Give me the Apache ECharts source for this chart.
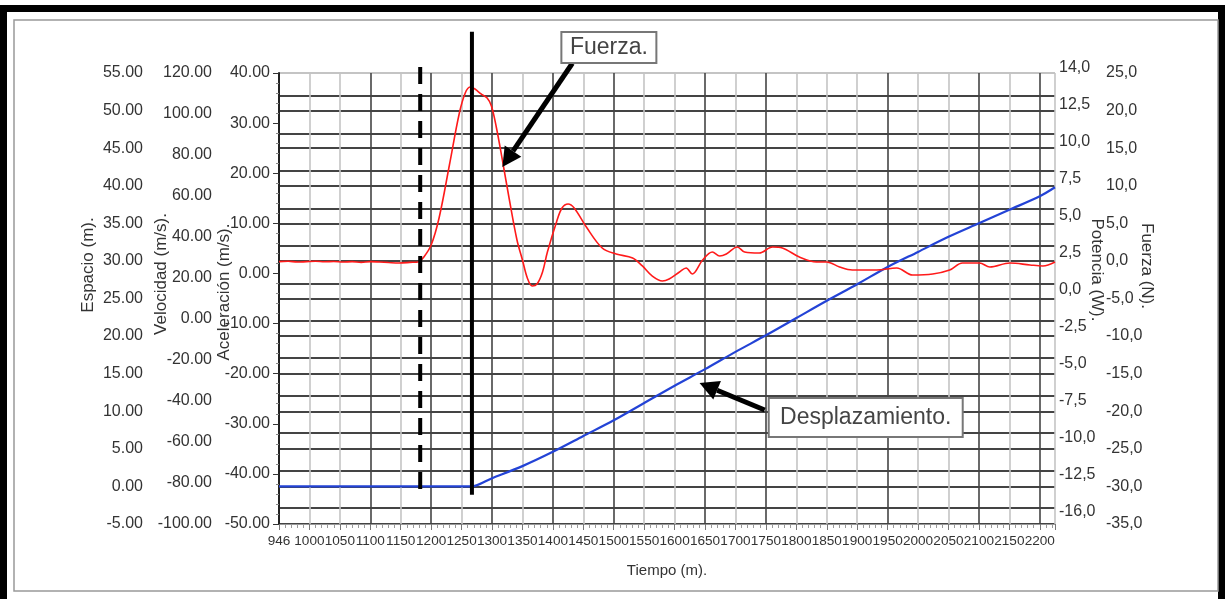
<!DOCTYPE html>
<html><head><meta charset="utf-8">
<script src="https://cdn.jsdelivr.net/npm/echarts@6/dist/echarts.min.js"></script>
<style>html,body{margin:0;padding:0;background:#fff}#c{width:1225px;height:599px}</style>
</head><body><div id="c"></div>
<script>
// ---------- data ----------
const xTickLabels = ['946','1000','1050','1100','1150','1200','1250','1300','1350','1400','1450','1500','1550','1600','1650','1700','1750','1800','1850','1900','1950','2000','2050','2100','2150','2200'];
const aceleracionLabels = ['-50.00','-40.00','-30.00','-20.00','-10.00','0.00','10.00','20.00','30.00','40.00'];
const velocidadLabels = ['-100.00','-80.00','-60.00','-40.00','-20.00','0.00','20.00','40.00','60.00','80.00','100.00','120.00'];
const espacioLabels = ['-5.00','0.00','5.00','10.00','15.00','20.00','25.00','30.00','35.00','40.00','45.00','50.00','55.00'];
const potenciaLabels = ['-16,0','-12,5','-10,0','-7,5','-5,0','-2,5','0,0','2,5','5,0','7,5','10,0','12,5','14,0'];
const fuerzaLabels = ['-35,0','-30,0','-25,0','-20,0','-15,0','-10,0','-5,0','0,0','5,0','10,0','15,0','20,0','25,0'];

// Desplazamiento (Espacio, m) vs Tiempo
const tiempoDesp = [950,1266,1300,1350,1400,1450,1500,1550,1600,1650,1700,1750,1800,1850,1900,1950,2000,2050,2100,2150,2200,2225];
const desplazamiento = [0,0,1.1,2.7,4.6,6.7,8.8,11.1,13.4,15.6,17.9,20.1,22.4,24.7,26.9,29.2,31.2,33.2,35.0,36.8,38.6,39.8];

// Fuerza (N) vs Tiempo
const tiempoFuerza = [950,965,980,995,1010,1025,1040,1055,1070,1085,1100,1115,1130,1147,1165,1180,1188,1200,1213,1230,1246,1256,1264,1272,1282,1292,1299,1307,1317,1328,1341,1350,1358,1366,1374,1383,1391,1406,1415,1425,1435,1455,1481,1504,1531,1547,1563,1580,1591,1608,1619,1629,1646,1662,1674,1685,1703,1715,1739,1761,1777,1805,1833,1850,1871,1892,1932,1965,1991,2024,2052,2073,2101,2118,2151,2184,2205,2225];
const fuerza = [-0.1,-0.05,-0.15,-0.1,-0.05,-0.12,-0.08,-0.15,-0.1,-0.2,-0.1,-0.15,-0.22,-0.28,-0.2,-0.1,0.52,2.12,5.71,12.76,19.55,22.34,23.14,22.87,22.21,21.67,20.61,17.82,13.43,8.37,2.78,0.12,-2.27,-3.34,-3.07,-1.47,1.19,5.18,7.04,7.57,7.04,4.51,1.72,0.92,0.39,-0.67,-2.0,-2.67,-2.4,-1.47,-0.94,-1.74,0.12,1.19,0.66,0.92,1.85,1.19,1.05,1.85,1.72,0.52,-0.14,-0.14,-0.81,-1.21,-1.21,-0.94,-1.87,-1.74,-1.21,-0.28,-0.28,-0.81,-0.28,-0.54,-0.67,-0.14];

// vertical reference markers (Tiempo)
const marcadoresTiempo = [1182, 1267];

// annotations: anchors in [Tiempo, value] on the named axis
const notaFuerza = {texto: 'Fuerza.', eje: 3, caja: [1492, 28.4], tam: [95, 31], flechaDesde: [1432, 26.3], flechaHasta: [1317, 12.5]};
const notaDesp = {texto: 'Desplazamiento.', eje: 2, caja: [1914, 9.17], tam: [194, 39], flechaDesde: [1748, 10.17], flechaHasta: [1641, 13.76]};

// ---------- chart ----------
const chart = echarts.init(document.getElementById('c'), null, {renderer: 'canvas'});
const zip = (a, b) => a.map((v, i) => [v, b[i]]);
const lab = (arr, min, step) => v => { const i = Math.round((v - min) / step); return Math.abs(v - (min + i * step)) < 1e-6 && arr[i] !== undefined ? arr[i] : ''; };
const TXT = '#333';
const FONT = 'Liberation Sans, Arial, sans-serif';
const DARK = '#444', LIGHT = '#c4c4c4';
const vColors = [DARK,LIGHT,LIGHT,DARK,LIGHT,DARK,LIGHT,DARK,LIGHT,DARK,LIGHT,DARK,LIGHT,LIGHT,DARK,LIGHT,DARK,LIGHT,LIGHT,LIGHT,DARK,LIGHT,LIGHT,DARK,LIGHT,DARK,LIGHT];
const hColorsA = [DARK,DARK,DARK,DARK,DARK,DARK,DARK,DARK,DARK,DARK,DARK,DARK,LIGHT];

const yLabel = {color: TXT, fontSize: 16, fontFamily: FONT};

const baseGraphic = [
  {type: 'rect', z: -10, shape: {x: 3.5, y: 8.5, width: 1218, height: 620}, style: {fill: 'none', stroke: '#000', lineWidth: 7}},
  {type: 'rect', z: -10, shape: {x: 14, y: 20, width: 1204, height: 571}, style: {fill: 'none', stroke: '#999', lineWidth: 1.5}},
  {type: 'text', x: 88, y: 265, rotation: Math.PI / 2, style: {text: 'Espacio (m).', fill: TXT, font: '17px ' + FONT, align: 'center', verticalAlign: 'middle'}},
  {type: 'text', x: 161, y: 274, rotation: Math.PI / 2, style: {text: 'Velocidad (m/s).', fill: TXT, font: '17px ' + FONT, align: 'center', verticalAlign: 'middle'}},
  {type: 'text', x: 224, y: 292, rotation: Math.PI / 2, style: {text: 'Aceleración (m/s).', fill: TXT, font: '17px ' + FONT, align: 'center', verticalAlign: 'middle'}},
  {type: 'text', x: 1097, y: 270, rotation: -Math.PI / 2, style: {text: 'Potencia (W).', fill: TXT, font: '17px ' + FONT, align: 'center', verticalAlign: 'middle'}},
  {type: 'text', x: 1147, y: 266, rotation: -Math.PI / 2, style: {text: 'Fuerza (N).', fill: TXT, font: '17px ' + FONT, align: 'center', verticalAlign: 'middle'}}
];

const option = {
  animation: false,
  backgroundColor: '#fff',
  grid: [
    {left: 279, right: 170, top: 73, bottom: 75, outerBoundsMode: 'none', containLabel: false},
    {left: 279, right: 170, top: 96, bottom: 91, outerBoundsMode: 'none', containLabel: false},
    {left: 279, right: 170, top: 68, bottom: 87, outerBoundsMode: 'none', containLabel: false}
  ],
  xAxis: [
    {gridIndex: 0, type: 'value', min: 950, max: 2225, interval: 50,
     name: 'Tiempo (m).', nameLocation: 'middle', nameGap: 39,
     nameTextStyle: {color: TXT, fontSize: 15, fontFamily: FONT},
     axisLine: {show: true, onZero: false, lineStyle: {color: '#999', width: 1}},
     axisTick: {show: true, length: 6, lineStyle: {color: '#777'}},
     minorTick: {show: true, splitNumber: 5, length: 4, lineStyle: {color: '#999'}},
     axisLabel: {color: TXT, fontSize: 13.6, fontFamily: FONT, margin: 10, formatter: lab(xTickLabels, 950, 50), hideOverlap: false},
     splitLine: {show: true, lineStyle: {color: vColors, width: 1.6}}},
    {gridIndex: 1, type: 'value', min: 0, max: 1, show: false},
    {gridIndex: 2, type: 'value', min: 0, max: 1, show: false}
  ],
  yAxis: [
    {gridIndex: 0, type: 'value', position: 'left', offset: 0, min: -50, max: 40, interval: 10,
     axisLine: {show: true, onZero: false, lineStyle: {color: '#222', width: 2}},
     axisTick: {show: true, length: 6, lineStyle: {color: '#333'}},
     minorTick: {show: true, splitNumber: 5, length: 3, lineStyle: {color: '#888'}},
     axisLabel: Object.assign({margin: 9, formatter: lab(aceleracionLabels, -50, 10)}, yLabel),
     splitLine: {show: false}},
    {gridIndex: 0, type: 'value', position: 'left', offset: 59, min: -100, max: 120, interval: 20,
     axisLine: {show: false, onZero: false}, axisTick: {show: false},
     axisLabel: Object.assign({margin: 8, formatter: lab(velocidadLabels, -100, 20)}, yLabel),
     splitLine: {show: false}},
    {gridIndex: 0, type: 'value', position: 'left', offset: 128, min: -5, max: 55, interval: 5,
     axisLine: {show: false, onZero: false}, axisTick: {show: false},
     axisLabel: Object.assign({margin: 8, formatter: lab(espacioLabels, -5, 5)}, yLabel),
     splitLine: {show: true, lineStyle: {color: hColorsA, width: 2}}},
    {gridIndex: 0, type: 'value', position: 'right', offset: 43, min: -35, max: 25, interval: 5,
     axisLine: {show: false, onZero: false}, axisTick: {show: false},
     axisLabel: Object.assign({margin: 8, formatter: lab(fuerzaLabels, -35, 5)}, yLabel),
     splitLine: {show: false}},
    {gridIndex: 1, type: 'value', min: 0, max: 11, interval: 1,
     axisLine: {show: false}, axisTick: {show: false}, axisLabel: {show: false},
     splitLine: {show: true, lineStyle: {color: DARK, width: 2}}},
    {gridIndex: 2, type: 'value', position: 'right', offset: 0, min: 0, max: 12, interval: 1,
     axisLine: {show: false}, axisTick: {show: false},
     axisLabel: Object.assign({margin: 4, formatter: lab(potenciaLabels, 0, 1)}, yLabel),
     splitLine: {show: false}}
  ],
  series: [
    {name: 'Desplazamiento', type: 'line', xAxisIndex: 0, yAxisIndex: 2, data: zip(tiempoDesp, desplazamiento),
     showSymbol: false, smooth: 0.3, clip: false, z: 5,
     lineStyle: {color: '#2343d6', width: 2.2}},
    {name: 'Fuerza', type: 'line', xAxisIndex: 0, yAxisIndex: 3, data: zip(tiempoFuerza, fuerza),
     showSymbol: false, smooth: 0.35, clip: false, z: 6,
     lineStyle: {color: '#ff1a1a', width: 1.6}},
    {name: 'inicio', type: 'line', xAxisIndex: 0, yAxisIndex: 2,
     data: [[marcadoresTiempo[0], 55.8], [marcadoresTiempo[0], -1.4]],
     showSymbol: false, clip: false, z: 7,
     lineStyle: {color: '#000', width: 4, type: [17, 10]}},
    {name: 'pico', type: 'line', xAxisIndex: 0, yAxisIndex: 2,
     data: [[marcadoresTiempo[1], 60.5], [marcadoresTiempo[1], -1.1]],
     showSymbol: false, clip: false, z: 7,
     lineStyle: {color: '#000', width: 4}}
  ],
  graphic: baseGraphic
};
chart.setOption(option);

// annotations positioned through the chart's own scales
function nota(n) {
  const toPx = p => chart.convertToPixel({xAxisIndex: 0, yAxisIndex: n.eje}, p);
  const a0 = toPx(n.flechaDesde), a1 = toPx(n.flechaHasta), bc = toPx(n.caja);
  const dx = a1[0] - a0[0], dy = a1[1] - a0[1], L = Math.hypot(dx, dy), ux = dx / L, uy = dy / L;
  const hl = 19, hw = 10;
  const base = [a1[0] - ux * hl, a1[1] - uy * hl];
  const w = n.tam[0], h = n.tam[1];
  return [
    {type: 'line', z: 20, shape: {x1: a0[0], y1: a0[1], x2: base[0], y2: base[1]}, style: {stroke: '#000', lineWidth: 5}},
    {type: 'polygon', z: 20, shape: {points: [a1, [base[0] - uy * hw, base[1] + ux * hw], [base[0] + uy * hw, base[1] - ux * hw]]}, style: {fill: '#000'}},
    {type: 'rect', z: 21, shape: {x: bc[0] - w / 2, y: bc[1] - h / 2, width: w, height: h}, style: {fill: '#fff', stroke: '#777', lineWidth: 2}},
    {type: 'text', z: 22, x: bc[0], y: bc[1], style: {text: n.texto, fill: '#444', font: '23px ' + FONT, align: 'center', verticalAlign: 'middle'}}
  ];
}
chart.setOption({graphic: baseGraphic.concat(nota(notaFuerza), nota(notaDesp))});
</script>
</body></html>
